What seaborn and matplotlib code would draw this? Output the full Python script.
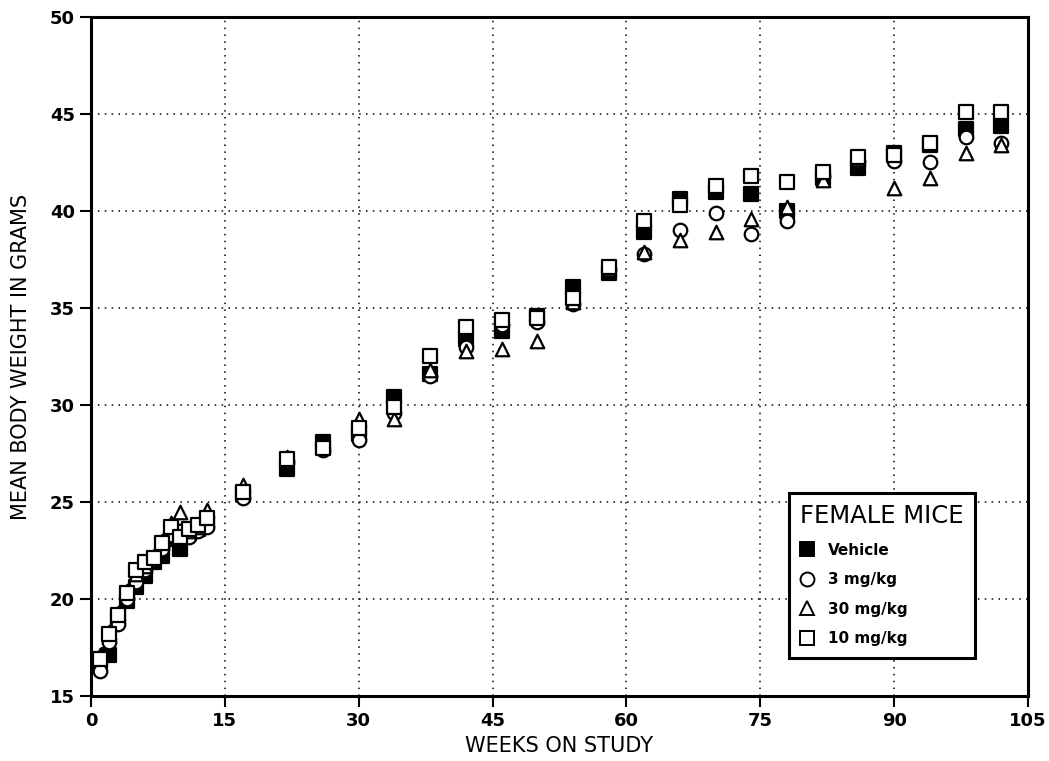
import numpy as np
import pandas as pd
import seaborn as sns
import matplotlib.pyplot as plt
from matplotlib.lines import Line2D

sns.set_style("ticks")
plt.rcParams['font.family'] = ['DejaVu Sans']
plt.rcParams['text.color'] = 'black'
plt.rcParams['axes.labelcolor'] = 'black'

# Data
weeks = [1, 2, 3, 4, 5, 6, 7, 8, 9, 10, 11, 12, 13,
         17, 22, 26, 30, 34, 38, 42, 46, 50, 54, 58, 62, 66, 70, 74, 78,
         82, 86, 90, 94, 98, 102]
vehicle = [16.8, 17.1, 19.0, 19.9, 20.6, 21.2, 21.9, 22.2, 23.1, 22.6, 23.4, 23.6, 23.9,
           25.4, 26.7, 28.1, 28.5, 30.4, 31.6, 33.4, 33.8, 34.6, 36.1, 36.8, 38.9, 40.6,
           41.0, 40.9, 40.0, 41.7, 42.2, 43.0, 43.4, 44.2, 44.4]
mg3 = [16.3, 17.8, 18.7, 20.0, 20.9, 21.5, 22.0, 22.6, 23.3, 23.5, 23.2, 23.5, 23.7,
       25.2, 27.1, 27.7, 28.2, 29.6, 31.5, 33.0, 34.1, 34.3, 35.2, 37.0, 37.8, 39.0,
       39.9, 38.8, 39.5, 41.8, 42.6, 42.6, 42.5, 43.8, 43.5]
mg30 = [17.1, 18.3, 19.3, 20.4, 21.3, 21.7, 22.2, 23.0, 23.9, 24.5, 23.5, 23.7, 24.6,
        25.9, 27.3, 27.9, 29.3, 29.3, 31.8, 32.8, 32.9, 33.3, 35.3, 37.0, 37.9, 38.5,
        38.9, 39.6, 40.2, 41.6, 42.7, 41.2, 41.7, 43.0, 43.4]
mg10 = [16.9, 18.2, 19.2, 20.3, 21.5, 21.9, 22.1, 22.9, 23.7, 23.2, 23.6, 23.8, 24.2,
        25.5, 27.2, 27.8, 28.8, 29.9, 32.5, 34.0, 34.4, 34.5, 35.5, 37.1, 39.5, 40.3,
        41.3, 41.8, 41.5, 42.0, 42.8, 42.9, 43.5, 45.1, 45.1]

groups = ["Vehicle", "3 mg/kg", "30 mg/kg", "10 mg/kg"]
df = pd.DataFrame({
    "week": weeks * 4,
    "weight": vehicle + mg3 + mg30 + mg10,
    "group": np.repeat(groups, len(weeks)),
})

fig = plt.figure(figsize=(10.49, 7.61), dpi=100)
ax = fig.add_axes([0.0868, 0.0854, 0.8932, 0.8923])

styles = {
    "Vehicle": dict(marker="s", facecolor="black"),
    "3 mg/kg": dict(marker="o", facecolor="white"),
    "30 mg/kg": dict(marker="^", facecolor="white"),
    "10 mg/kg": dict(marker="s", facecolor="white"),
}
for i, g in enumerate(groups):
    sub = df[df["group"] == g]
    sns.scatterplot(data=sub, x="week", y="weight", ax=ax,
                    marker=styles[g]["marker"], color=styles[g]["facecolor"],
                    edgecolor="black", linewidth=1.6, s=95, zorder=3 + i,
                    legend=False)

ax.set_xlim(0, 105)
ax.set_ylim(15, 50)
ax.set_xticks(range(0, 106, 15))
ax.set_yticks(range(15, 51, 5))
ax.grid(True, color="black", linestyle=(0, (1, 3.5)), linewidth=1.1)
for sp in ax.spines.values():
    sp.set_linewidth(2.2)
    sp.set_color("black")
ax.tick_params(direction="out", length=8, width=1.5, labelsize=13, colors="black")
for lab in ax.get_xticklabels() + ax.get_yticklabels():
    lab.set_fontweight("bold")

ax.set_xlabel("WEEKS ON STUDY", fontsize=15, labelpad=4)
ax.set_ylabel("MEAN BODY WEIGHT IN GRAMS", fontsize=15, labelpad=14)

handles = [Line2D([], [], linestyle="none", marker=styles[g]["marker"],
                  markerfacecolor=styles[g]["facecolor"], markeredgecolor="black",
                  markeredgewidth=1.4, markersize=10) for g in groups]
leg = ax.legend(handles, groups, title="FEMALE MICE", loc="lower right",
                bbox_to_anchor=(0.952, 0.045), frameon=True, fancybox=False,
                edgecolor="black", framealpha=1, handlelength=0.8,
                handletextpad=1.0, labelspacing=0.95, borderpad=0.75,
                prop={"size": 11, "weight": "bold"})
leg.get_title().set_fontsize(17.5)
leg._legend_box.align = "left"
leg.get_frame().set_linewidth(2.2)
leg.set_zorder(10)

fig.savefig("out.png", dpi=100)
